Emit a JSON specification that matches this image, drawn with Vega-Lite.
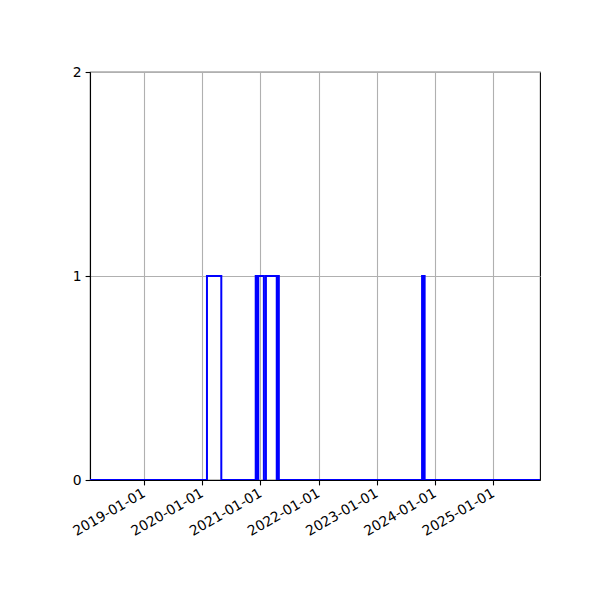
{
  "$schema": "https://vega.github.io/schema/vega-lite/v6.json",
  "width": 450,
  "height": 408,
  "autosize": {"type": "none"},
  "padding": {"left": 90, "top": 72, "right": 60, "bottom": 120},
  "background": "white",
  "config": {
    "view": {"stroke": "black", "strokeWidth": 1.1},
    "axis": {
      "labelFont": "DejaVu Sans",
      "labelFontSize": 13.9,
      "labelColor": "black",
      "labelOverlap": false,
      "labelFlush": false,
      "domainColor": "black",
      "domainWidth": 1.1,
      "tickColor": "black",
      "tickSize": 4.9,
      "tickWidth": 1.1,
      "gridColor": "#b0b0b0",
      "gridWidth": 1.1,
      "title": null
    }
  },
  "data": {
    "values": [
      {"date": "2018-01-28", "value": 0},
      {"date": "2020-02-01", "value": 1},
      {"date": "2020-05-01", "value": 0},
      {"date": "2020-12-03", "value": 1},
      {"date": "2020-12-13", "value": 0},
      {"date": "2020-12-19", "value": 1},
      {"date": "2021-01-23", "value": 0},
      {"date": "2021-02-05", "value": 1},
      {"date": "2021-04-14", "value": 0},
      {"date": "2021-04-20", "value": 1},
      {"date": "2021-04-27", "value": 0},
      {"date": "2023-10-13", "value": 1},
      {"date": "2023-10-20", "value": 0},
      {"date": "2023-10-23", "value": 1},
      {"date": "2023-10-29", "value": 0},
      {"date": "2025-10-22", "value": 0}
    ]
  },
  "mark": {"type": "line", "interpolate": "step-after", "color": "#0000ff", "strokeWidth": 2, "clip": true},
  "encoding": {
    "x": {
      "field": "date",
      "type": "temporal",
      "scale": {"type": "utc", "domain": [1517097600000, 1761091200000]},
      "axis": {
        "values": [1546300800000, 1577836800000, 1609459200000, 1640995200000, 1672531200000, 1704067200000, 1735689600000],
        "format": "%Y-%m-%d",
        "labelAngle": -30,
        "labelAlign": "right",
        "labelBaseline": "middle",
        "labelPadding": 7,
        "grid": true
      }
    },
    "y": {
      "field": "value",
      "type": "quantitative",
      "scale": {"domain": [0, 2], "nice": false},
      "axis": {"values": [0, 1, 2], "format": ".0f", "grid": true, "labelPadding": 4}
    }
  }
}
